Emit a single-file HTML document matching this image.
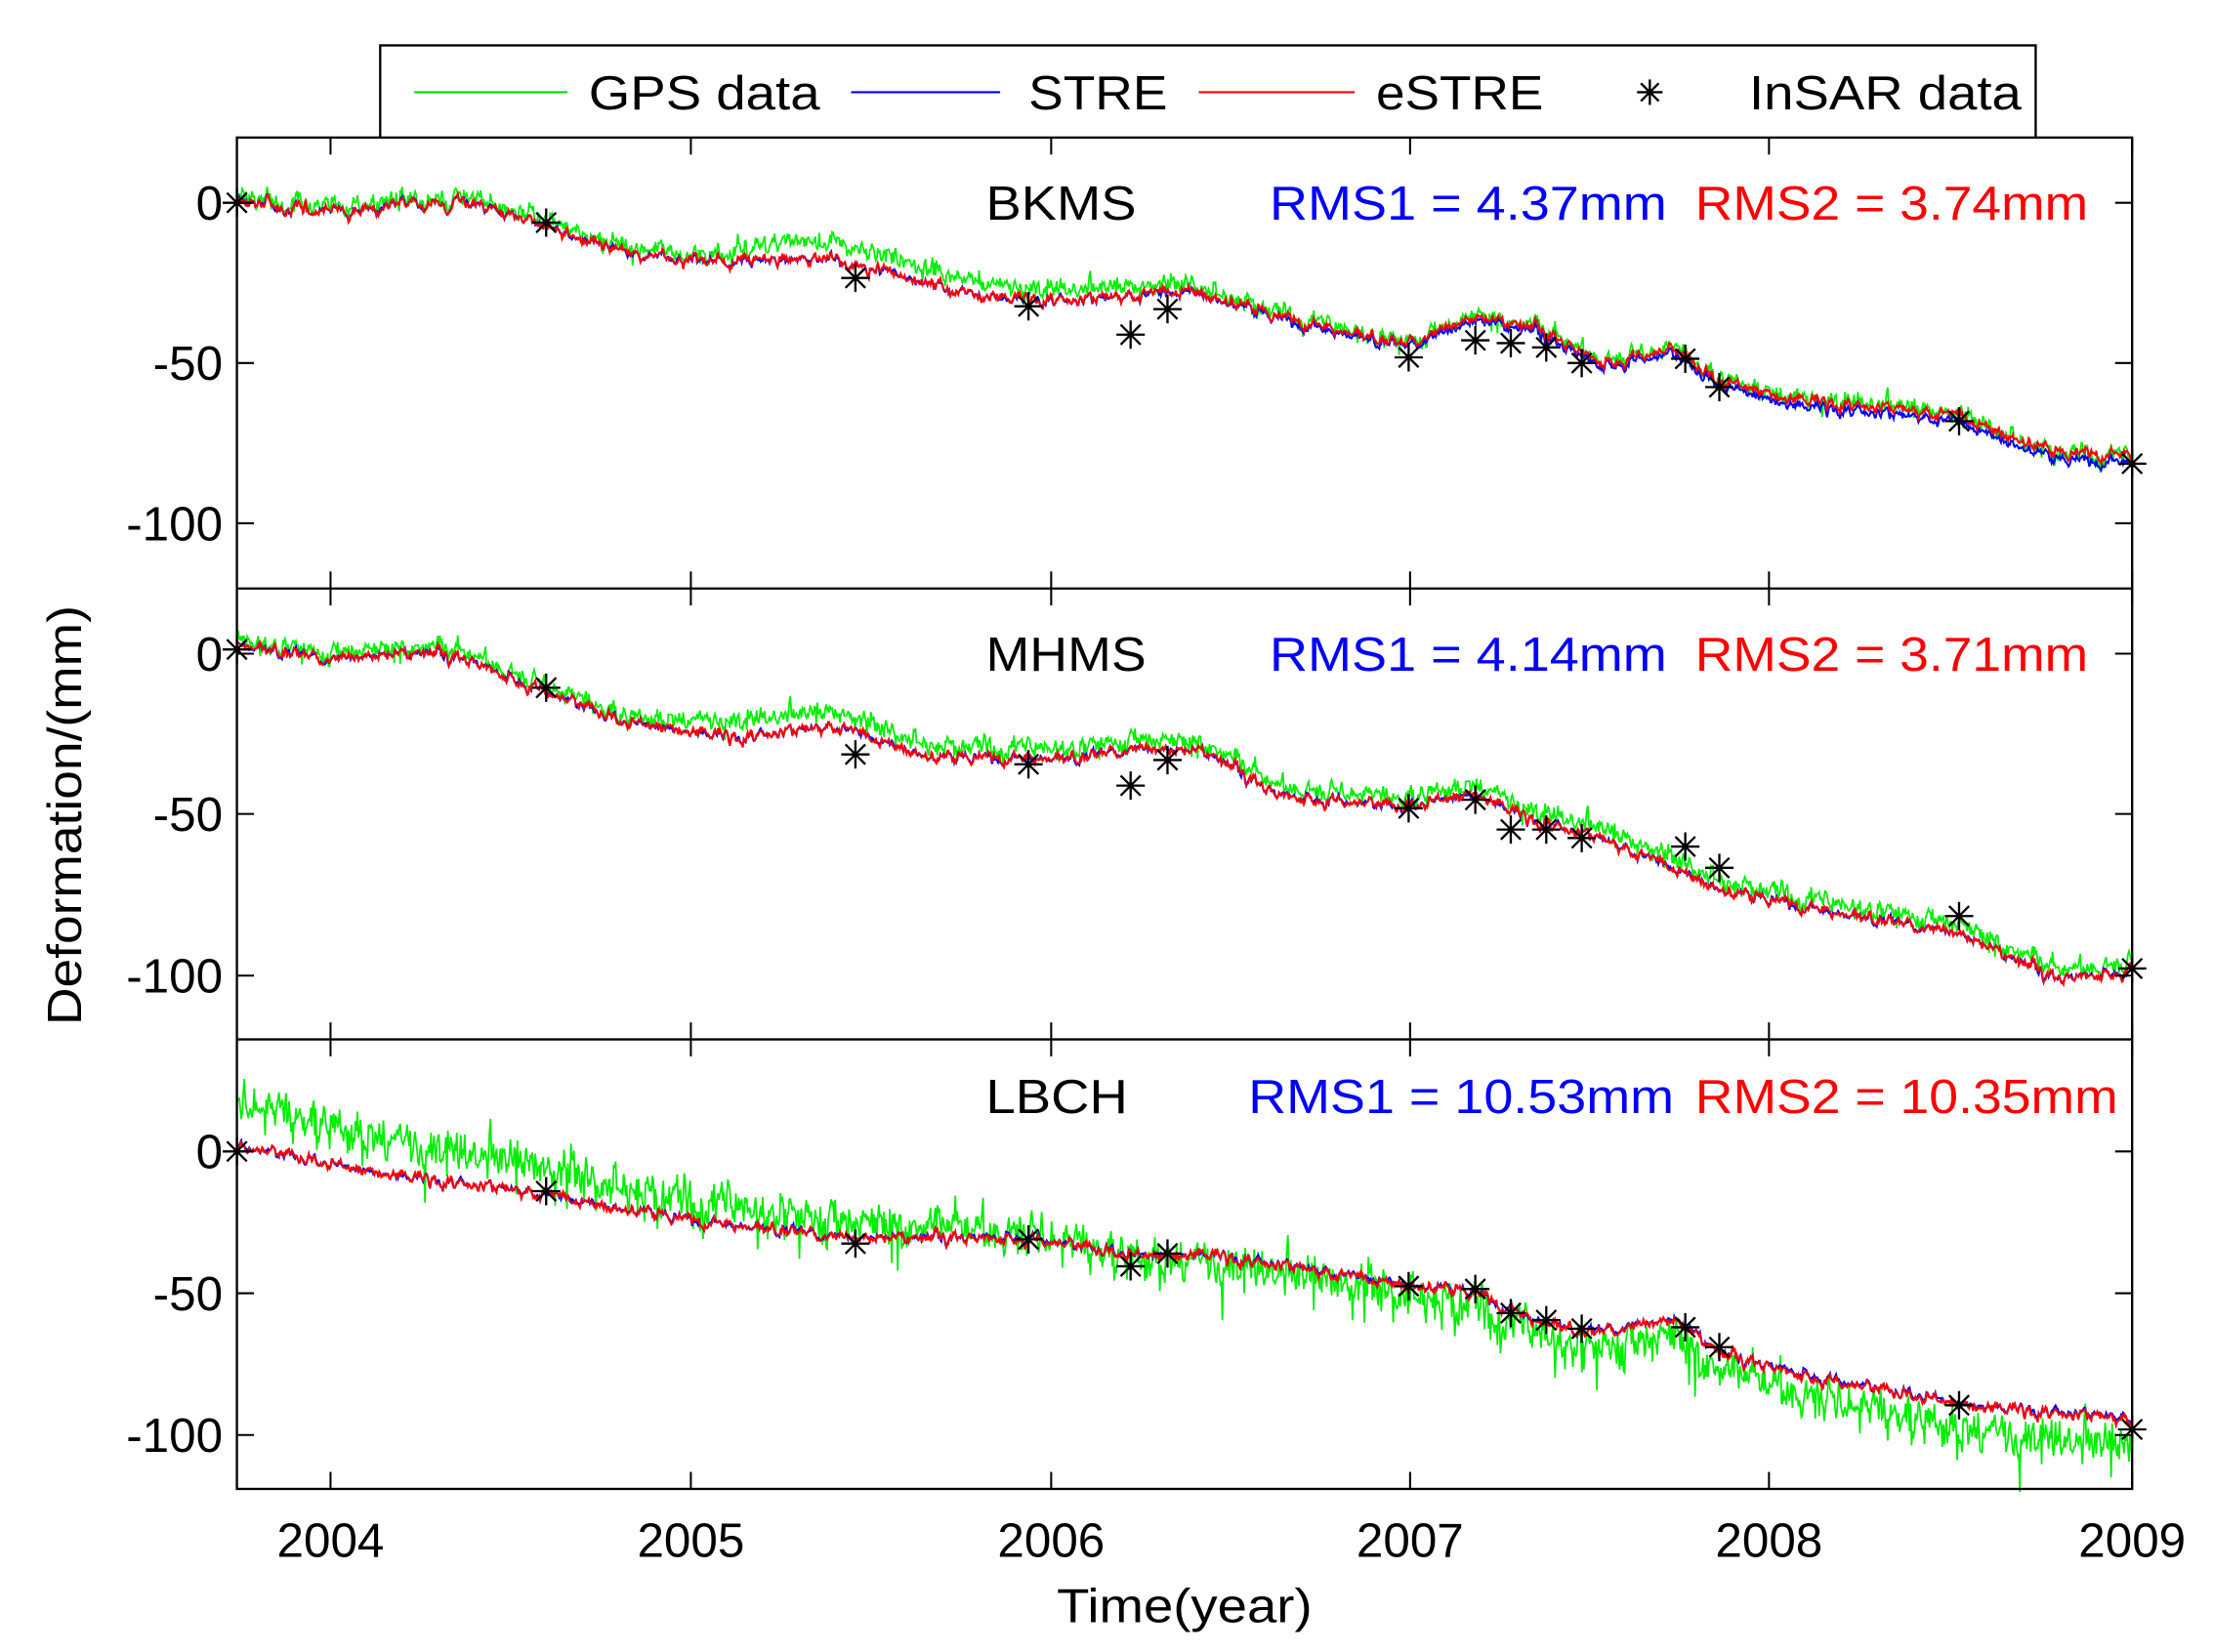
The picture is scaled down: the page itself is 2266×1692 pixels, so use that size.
<!DOCTYPE html>
<html><head><meta charset="utf-8">
<style>
html,body{margin:0;padding:0;background:#fff;}
svg{display:block;}
text{font-family:"Liberation Sans",sans-serif;}
</style></head>
<body>
<svg id="s" width="2266" height="1692" viewBox="0 0 1560 1165" preserveAspectRatio="none" xmlns="http://www.w3.org/2000/svg">
<rect width="1560" height="1165" fill="#fff"/>
<g id="data"></g>
<g fill="none" stroke="#000" stroke-width="1.6">
<rect x="167" y="97" width="1336" height="953"/>
<line x1="167" y1="415" x2="1503" y2="415"/>
<line x1="167" y1="733" x2="1503" y2="733"/>
</g>
<g id="ticks" stroke="#000" stroke-width="1.4"></g>
<rect x="268" y="32" width="1167" height="65" fill="#fff" stroke="#000" stroke-width="1.6"/>
<line x1="292" y1="65" x2="400" y2="65" stroke="#00e000" stroke-width="1.5"/>
<text x="415" y="77" font-size="34" textLength="163" lengthAdjust="spacingAndGlyphs">GPS data</text>
<line x1="600" y1="65" x2="705" y2="65" stroke="#0000ff" stroke-width="1.5"/>
<text x="725" y="77" font-size="34" textLength="98" lengthAdjust="spacingAndGlyphs">STRE</text>
<line x1="845" y1="65" x2="955" y2="65" stroke="#ff0000" stroke-width="1.5"/>
<text x="970" y="77" font-size="34" textLength="118" lengthAdjust="spacingAndGlyphs">eSTRE</text>
<g id="legstar"></g>
<text x="1233" y="77" font-size="34" textLength="192" lengthAdjust="spacingAndGlyphs">InSAR data</text>
<text x="695" y="155" font-size="34" textLength="106" lengthAdjust="spacingAndGlyphs">BKMS</text>
<text x="895" y="155" font-size="34" fill="#0000ff" textLength="280" lengthAdjust="spacingAndGlyphs">RMS1 = 4.37mm</text>
<text x="1195" y="155" font-size="34" fill="#ff0000" textLength="277" lengthAdjust="spacingAndGlyphs">RMS2 = 3.74mm</text>
<text x="695" y="473" font-size="34" textLength="113" lengthAdjust="spacingAndGlyphs">MHMS</text>
<text x="895" y="473" font-size="34" fill="#0000ff" textLength="280" lengthAdjust="spacingAndGlyphs">RMS1 = 4.14mm</text>
<text x="1195" y="473" font-size="34" fill="#ff0000" textLength="277" lengthAdjust="spacingAndGlyphs">RMS2 = 3.71mm</text>
<text x="695" y="785" font-size="34" textLength="100" lengthAdjust="spacingAndGlyphs">LBCH</text>
<text x="880" y="785" font-size="34" fill="#0000ff" textLength="300" lengthAdjust="spacingAndGlyphs">RMS1 = 10.53mm</text>
<text x="1195" y="785" font-size="34" fill="#ff0000" textLength="298" lengthAdjust="spacingAndGlyphs">RMS2 = 10.35mm</text>
<g id="labels" font-size="34"></g>
<text x="835" y="1144" font-size="34" text-anchor="middle" textLength="180" lengthAdjust="spacingAndGlyphs">Time(year)</text>
<text transform="translate(57,575) rotate(-90)" font-size="34" text-anchor="middle" textLength="296" lengthAdjust="spacingAndGlyphs">Deformation/(mm)</text>
</svg>
<script>
(function(){
var NS="http://www.w3.org/2000/svg";
function el(p,t,a){var e=document.createElementNS(NS,t);for(var k in a)e.setAttribute(k,a[k]);p.appendChild(e);return e;}
var seed=12345;function rnd(){seed=(seed*1103515245+12345)%2147483648;return seed/2147483648;}
function gauss(){return (rnd()+rnd()+rnd()+rnd()-2)*1.2;}
function interp(pts,x){for(var i=0;i<pts.length-1;i++){if(x<=pts[i+1][0]){var t=(x-pts[i][0])/(pts[i+1][0]-pts[i][0]);return pts[i][1]+t*(pts[i+1][1]-pts[i][1]);}}return pts[pts.length-1][1];}
var data=document.getElementById("data");
var panels=[
{base:[[167,140],[200,146],[250,150],[290,142],[330,142],[385,160],[450,180],[520,186],[580,180],[620,192],[700,210],[760,212],[840,205],[900,225],[990,245],[1040,226],[1080,233],[1130,258],[1180,250],[1210,272],[1260,285],[1380,297],[1450,325],[1503,326]],
 goff:[[167,-3],[500,-4],[560,-14],[700,-9],[850,-5],[1000,-2],[1300,-6],[1503,-4]],gn:5,
 stars:[[167,143],[385,157],[603,196],[725,216],[797,236],[823,218],[993,252],[1040,240],[1065,242],[1090,245],[1115,256],[1188,253],[1212,273],[1381,297],[1503,327]],
 redoff:[[167,0],[700,0],[1000,-2],[1300,-4],[1503,-5]]},
{base:[[167,455],[230,465],[300,460],[330,465],[385,488],[440,510],[520,520],[590,512],[660,535],[760,535],[800,528],[850,530],[900,560],[990,570],[1040,560],[1080,578],[1130,592],[1180,612],[1220,630],[1300,645],[1380,658],[1450,690],[1503,684]],
 goff:[[167,-3],[450,-4],[520,-12],[620,-9],[850,-5],[1100,-7],[1503,-5]],gn:5.5,
 stars:[[167,458],[385,485],[603,532],[725,539],[797,554],[823,536],[993,570],[1040,564],[1065,585],[1090,585],[1115,591],[1188,597],[1212,612],[1381,646],[1503,683]],
 redoff:[[167,0],[1503,0]]},
{base:[[167,808],[250,825],[385,842],[480,860],[600,873],[720,872],[800,886],[850,884],[990,905],[1040,912],[1080,930],[1120,940],[1180,930],[1215,955],[1300,975],[1380,990],[1503,1000]],
 goff:[[167,-30],[300,-22],[450,-14],[600,-8],[760,0],[850,6],[1000,8],[1150,14],[1300,16],[1503,22]],gn:14,
 stars:[[167,812],[385,840],[603,877],[725,874],[797,893],[823,884],[993,907],[1040,909],[1065,926],[1090,931],[1115,937],[1188,936],[1212,950],[1381,991],[1503,1008]],
 redoff:[[167,0],[1503,1]]}];
panels.forEach(function(p){
  var g="",b="",r="",w=0,w2=0,gw=0;
  for(var x=168;x<=1503;x+=0.7){
    var y=interp(p.base,x);
    w=0.7*w+gauss()*2.4; w2=0.7*w2+gauss()*1.2;
    gw=0.3*gw+gauss()*p.gn*0.8;
    var by=y+w;
    var gy=by+interp(p.goff,x)+gw+(rnd()<0.04?(rnd()-0.35)*p.gn*3.5:0);
    g+=(g?"L":"M")+x.toFixed(1)+" "+gy.toFixed(1);
    b+=(b?"L":"M")+x.toFixed(1)+" "+by.toFixed(1);
    r+=(r?"L":"M")+x.toFixed(1)+" "+(by+interp(p.redoff,x)+w2*0.8).toFixed(1);
  }
  el(data,"path",{d:g,fill:"none",stroke:"#00ee00","stroke-width":"1.2"});
  el(data,"path",{d:b,fill:"none",stroke:"#0000ff","stroke-width":"1.4"});
  el(data,"path",{d:r,fill:"none",stroke:"#ff0000","stroke-width":"1.4"});
  p.stars.forEach(function(s){star(data,s[0],s[1],10);});
});
function star(par,x,y,r){
  var d="M"+(x-r)+" "+y+"L"+(x+r)+" "+y+"M"+x+" "+(y-r)+"L"+x+" "+(y+r);
  var q=r*0.7;d+="M"+(x-q)+" "+(y-q)+"L"+(x+q)+" "+(y+q)+"M"+(x-q)+" "+(y+q)+"L"+(x+q)+" "+(y-q);
  el(par,"path",{d:d,stroke:"#000","stroke-width":"1.6",fill:"none"});
}
star(document.getElementById("legstar"),1163,65,9);
var tk=document.getElementById("ticks"),lb=document.getElementById("labels");
var yrs=[233,487,741,994,1247,1503],names=["2004","2005","2006","2007","2008","2009"];
[[97,415],[415,733],[733,1050]].forEach(function(a){
  yrs.forEach(function(x){el(tk,"line",{x1:x,y1:a[0],x2:x,y2:a[0]+12});el(tk,"line",{x1:x,y1:a[1],x2:x,y2:a[1]-12});});
});
var yt=[[143,"0"],[256,"-50"],[369,"-100"],[461,"0"],[574,"-50"],[688,"-100"],[812,"0"],[912,"-50"],[1012,"-100"]];
yt.forEach(function(t){
  el(tk,"line",{x1:167,y1:t[0],x2:179,y2:t[0]});el(tk,"line",{x1:1503,y1:t[0],x2:1491,y2:t[0]});
  var e=el(lb,"text",{x:157,y:t[0]+12,"text-anchor":"end"});e.textContent=t[1];
});
yrs.forEach(function(x,i){var e=el(lb,"text",{x:x,y:1098,"text-anchor":"middle"});e.textContent=names[i];});
})();
</script>
</body></html>
